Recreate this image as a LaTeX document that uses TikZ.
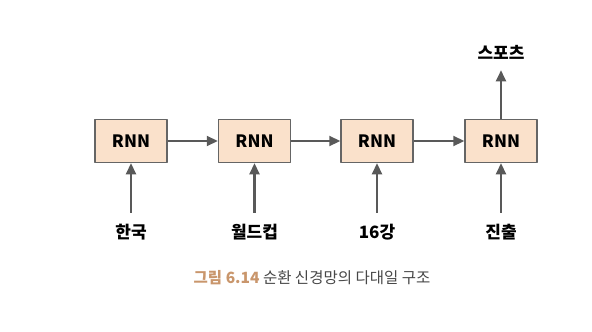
\documentclass[tikz,border=0pt]{standalone}
\usepackage{fontspec}
\setmainfont{Noto Sans CJK KR}
\usetikzlibrary{arrows.meta}
\definecolor{cellfill}{HTML}{FAE1CB}
\definecolor{celldraw}{HTML}{656565}
\definecolor{arrowgray}{HTML}{595959}
\definecolor{captionbrown}{HTML}{C9966C}
\definecolor{captiongray}{HTML}{474747}

\begin{document}
\begin{tikzpicture}[
    x=1pt, y=-1pt,
    line join=round,
    cell/.style={draw=celldraw, fill=cellfill, line width=1.5pt, minimum width=72pt, minimum height=43pt, font=\fontsize{17}{19}\selectfont\bfseries},
    word/.style={inner sep=0pt, font=\fontsize{17}{19}\selectfont\bfseries},
    flow/.style={draw=arrowgray, line width=2.2pt, -{Triangle[length=11pt, width=10pt]}}
]

    % Page frame
    \useasboundingbox (0, 0) rectangle (592, 332);

    % --- RNN cells ---
    \node[cell] (rnn1) at (131, 141) {RNN};
    \node[cell] (rnn2) at (254.5, 141) {RNN};
    \node[cell] (rnn3) at (377, 141) {RNN};
    \node[cell] (rnn4) at (501, 141) {RNN};

    % Hidden state passed along
    \draw[flow] (rnn1) -- (rnn2);
    \draw[flow] (rnn2) -- (rnn3);
    \draw[flow] (rnn3) -- (rnn4);

    % --- Inputs (one word per step) ---
    \node[word] (in1) at (131, 232) {한국};
    \node[word] (in2) at (254.5, 232) {월드컵};
    \node[word] (in3) at (377, 232) {16강};
    \node[word] (in4) at (501, 232) {진출};
    \draw[flow, shorten <=11pt] (in1.north) -- (rnn1.south);
    \draw[flow, shorten <=11pt] (in2.north) -- (rnn2.south);
    \draw[flow, shorten <=11pt] (in3.north) -- (rnn3.south);
    \draw[flow, shorten <=11pt] (in4.north) -- (rnn4.south);

    % --- Single output at the last step ---
    \node[word] (out) at (501, 52) {스포츠};
    \draw[flow, shorten >=11pt] (rnn4.north) -- (out.south);

    % Caption
    \node[inner sep=0pt, font=\fontsize{15.5}{18}\selectfont, text=captiongray] (caption) at (312, 278)
        {{\color{captionbrown}\bfseries 그림 6.14} 순환 신경망의 다대일 구조};

\end{tikzpicture}
\end{document}
